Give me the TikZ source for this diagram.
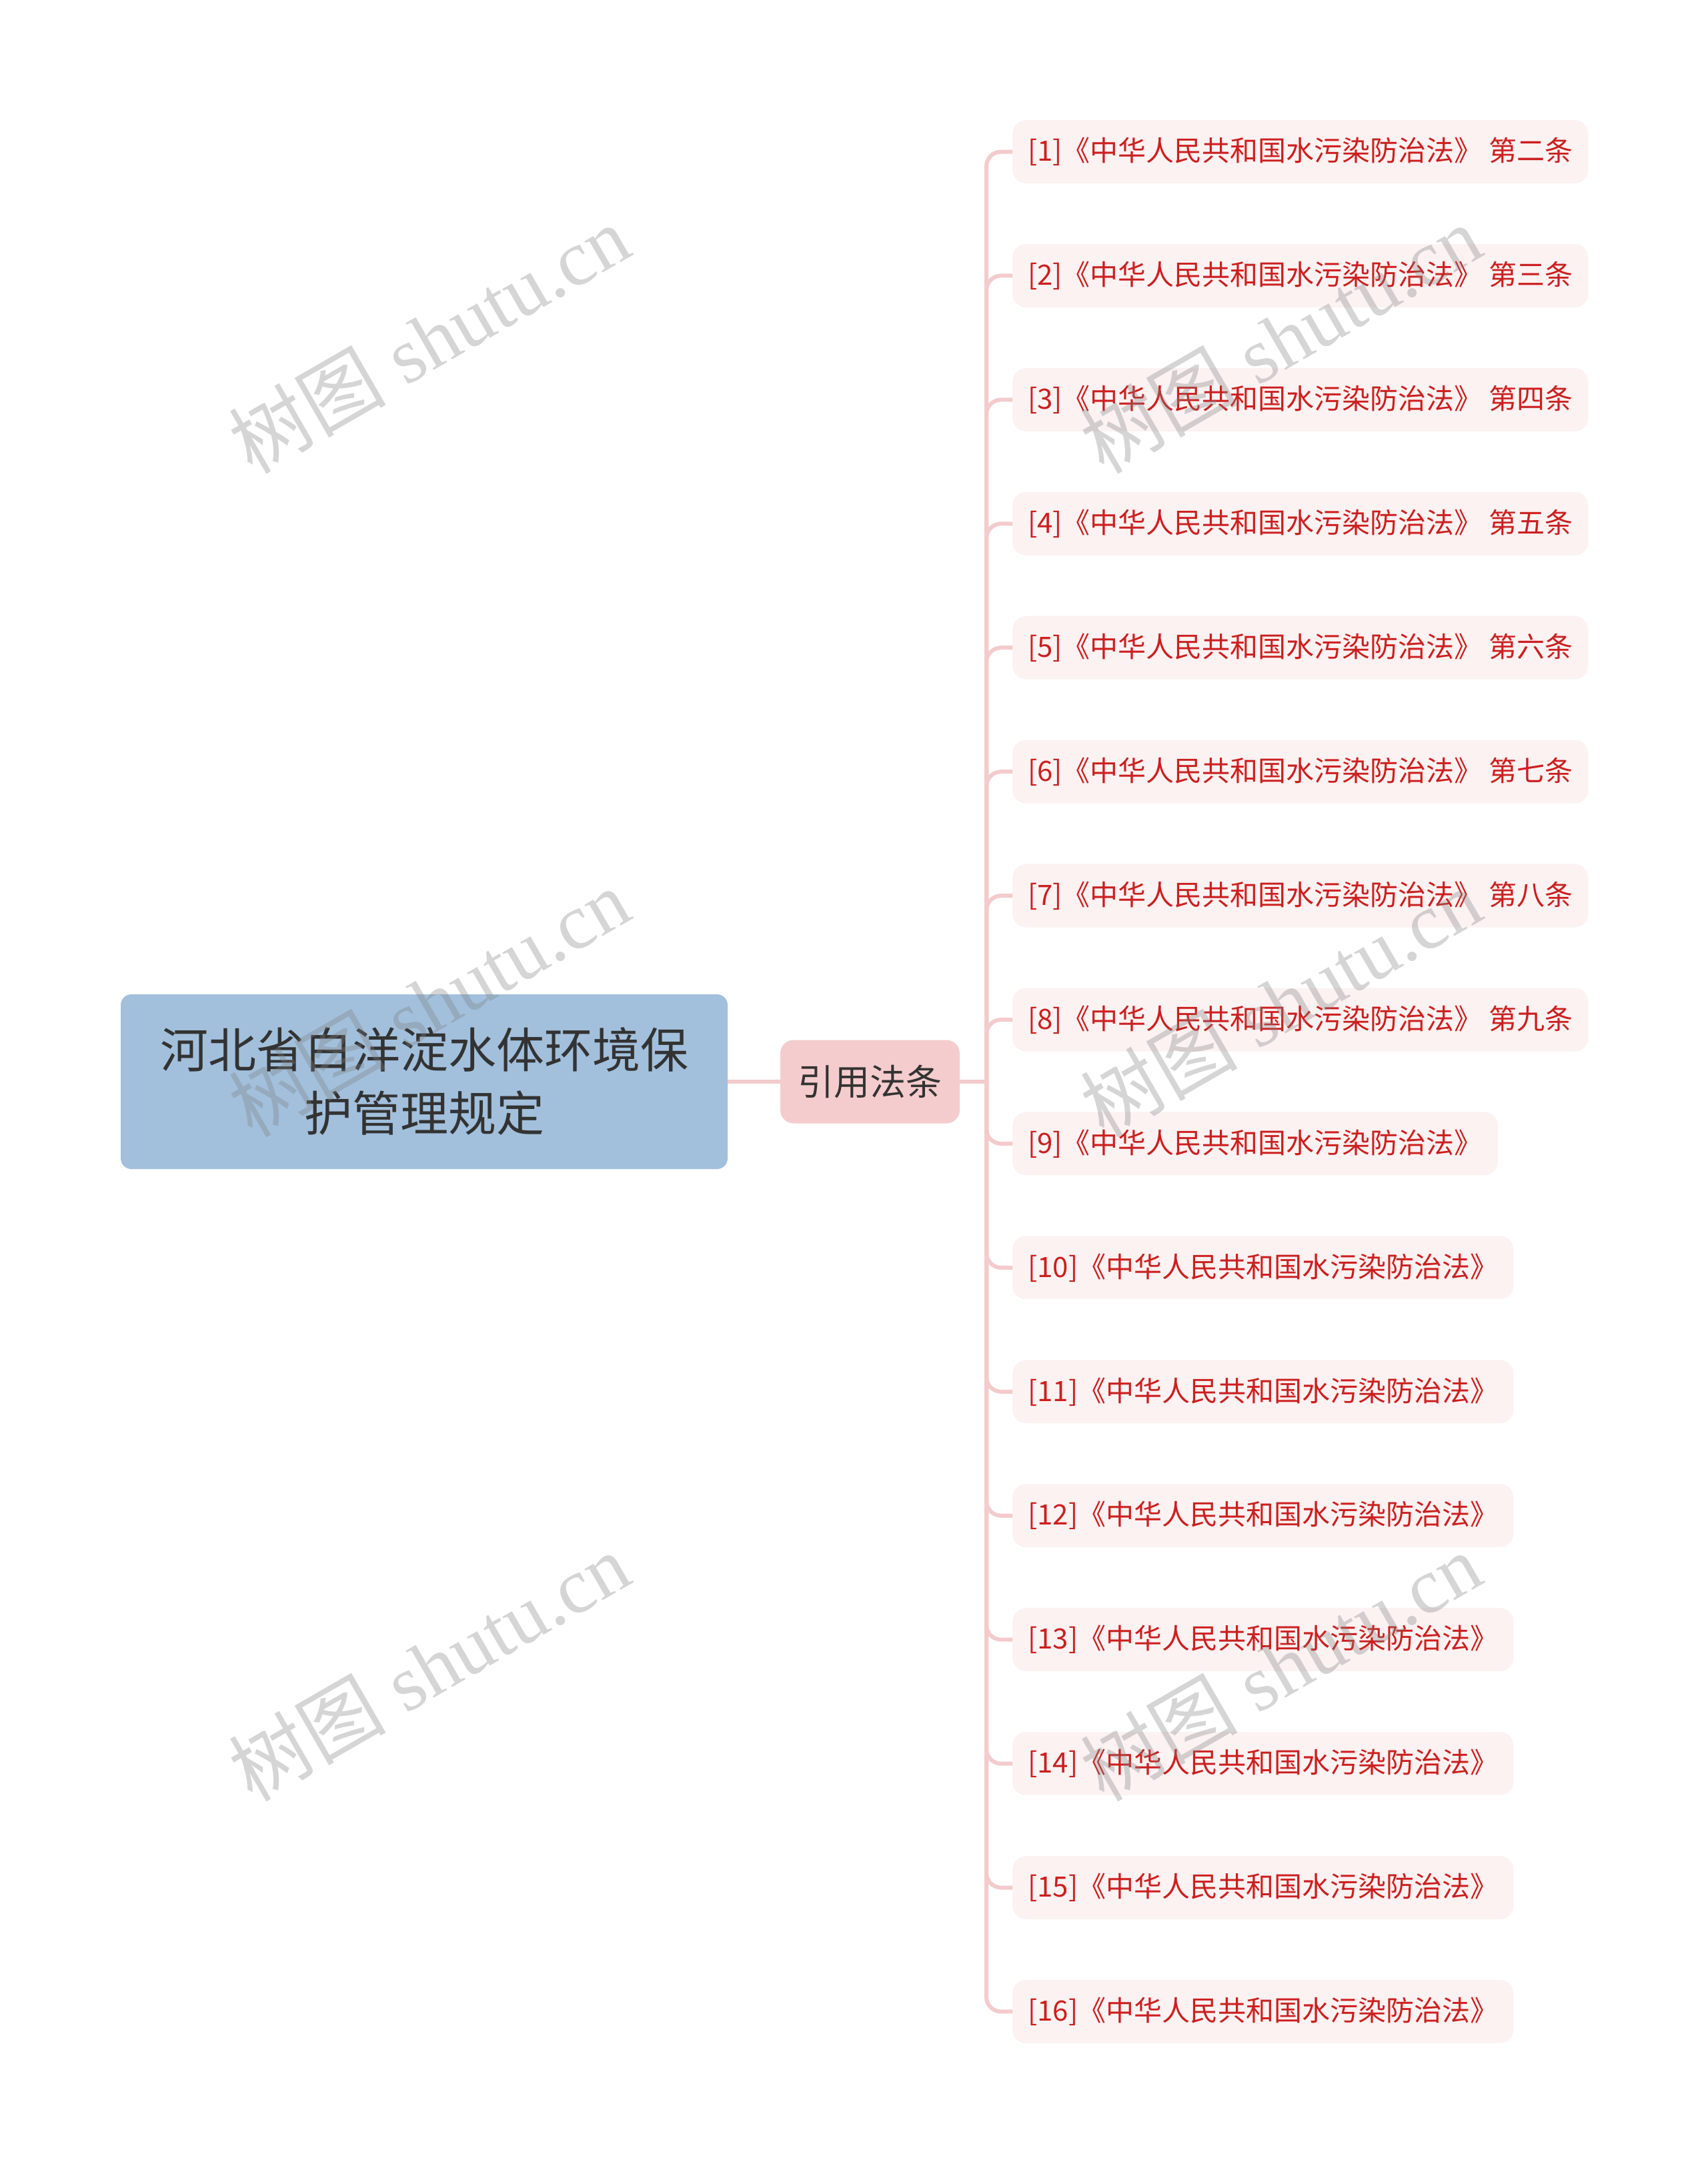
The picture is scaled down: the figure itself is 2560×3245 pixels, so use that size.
\documentclass[tikz,border=0pt]{standalone}
\usepackage{fontspec}
\setmainfont{Liberation Serif}
\newfontfamily\cjk{Noto Sans CJK SC}
\newfontfamily\wmlatin{Liberation Serif}
\usetikzlibrary{positioning}
\definecolor{rootfill}{HTML}{A2C0DC}
\definecolor{midfill}{HTML}{F5CCCE}
\definecolor{leaffill}{HTML}{FCF2F2}
\definecolor{leaftext}{HTML}{CC1F1F}
\definecolor{linecol}{HTML}{F3CBCC}
\definecolor{darktext}{HTML}{333333}
\tikzset{
  rootbox/.style={fill=rootfill, rounded corners=16pt, minimum width=910pt, minimum height=262pt,
    inner sep=0pt, align=center, text=darktext, font=\cjk\fontsize{72}{95}\selectfont},
  midbox/.style={fill=midfill, rounded corners=20pt, minimum width=269pt, minimum height=125pt,
    inner sep=0pt, text=darktext, font=\cjk\fontsize{54}{60}\selectfont},
  leafbox/.style={fill=leaffill, rounded corners=20pt, minimum height=95pt, inner xsep=23pt,
    inner ysep=0pt, anchor=west, text=leaftext, font=\cjk\fontsize{42}{50}\selectfont},
  branch/.style={draw=linecol, line width=6pt, rounded corners=22pt},
  wmark/.style={text=black!50, opacity=0.33, rotate=30, font=\fontsize{118}{126}\selectfont}
}
\begin{document}
\begin{tikzpicture}[x=1pt,y=-1pt]
\useasboundingbox (0,0) rectangle (2560,3245);
\fill[white] (0,0) rectangle (2560,3245);
\node[rootbox] (root) at (636,1622) {河北省白洋淀水体环境保\\护管理规定};
\node[midbox] (mid) at (1304.5,1622) {引用法条};
\coordinate (jn) at (1479,1622);
\draw[branch] (root.east) -- (mid.west);
\draw[branch] (mid.east) -- (jn);
\foreach \i/\t in {1/{[1]《中华人民共和国水污染防治法》 第二条},
                  2/{[2]《中华人民共和国水污染防治法》 第三条},
                  3/{[3]《中华人民共和国水污染防治法》 第四条},
                  4/{[4]《中华人民共和国水污染防治法》 第五条},
                  5/{[5]《中华人民共和国水污染防治法》 第六条},
                  6/{[6]《中华人民共和国水污染防治法》 第七条},
                  7/{[7]《中华人民共和国水污染防治法》 第八条},
                  8/{[8]《中华人民共和国水污染防治法》 第九条},
                  9/{[9]《中华人民共和国水污染防治法》},
                  10/{[10]《中华人民共和国水污染防治法》},
                  11/{[11]《中华人民共和国水污染防治法》},
                  12/{[12]《中华人民共和国水污染防治法》},
                  13/{[13]《中华人民共和国水污染防治法》},
                  14/{[14]《中华人民共和国水污染防治法》},
                  15/{[15]《中华人民共和国水污染防治法》},
                  16/{[16]《中华人民共和国水污染防治法》}} {
  \pgfmathsetmacro{\yy}{227.5+(\i-1)*185.93}
  \node[leafbox] (c\i) at (1518,\yy) {\t};
  \draw[branch] (jn) |- (c\i.west);
}
% watermarks
\foreach \wx/\wy [count=\k] in {643/508, 643/1503, 643/2499, 1920/508, 1920/1503, 1920/2499} {
  \node[wmark] (wm\k) at (\wx,\wy) {{\cjk 树图} {\wmlatin shutu.cn}};
}
\end{tikzpicture}
\end{document}
